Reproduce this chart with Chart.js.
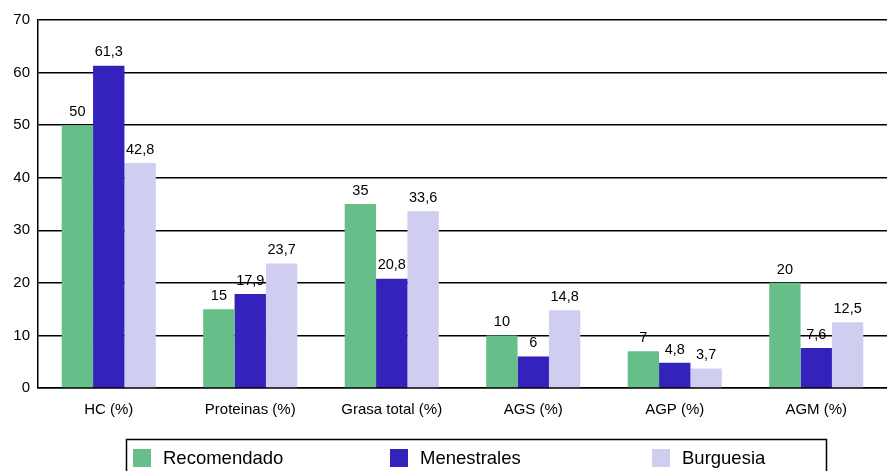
<!DOCTYPE html>
<html lang="es">
<head>
<meta charset="UTF-8">
<title>Dieta</title>
<script src="https://cdn.jsdelivr.net/npm/chart.js@4.4.1/dist/chart.umd.min.js"></script>
<style>
  html, body { margin: 0; padding: 0; background: #fff; }
  #wrap { width: 887px; height: 471px; position: relative; }
</style>
</head>
<body>
<div id="wrap"><canvas id="myChart"></canvas></div>
<script>
// categories and series values
const categories = ['HC (%)', 'Proteinas (%)', 'Grasa total (%)', 'AGS (%)', 'AGP (%)', 'AGM (%)'];
const recomendado = [50, 15, 35, 10, 7, 20];
const menestrales = [61.3, 17.9, 20.8, 6, 4.8, 7.6];
const burguesia = [42.8, 23.7, 33.6, 14.8, 3.7, 12.5];
const seriesNames = ['Recomendado', 'Menestrales', 'Burguesia'];
const yTicks = [0, 10, 20, 30, 40, 50, 60, 70];

const colors = ['#66bf89', '#3322bb', '#cfcef1'];
const FONT = '"Liberation Sans", Arial, sans-serif';

function fmt(v) {
    return String(v).replace('.', ',');
}

// value labels on top of each bar
const valueLabels = {
    id: 'valueLabels',
    afterDatasetsDraw(chart) {
        const ctx = chart.ctx;
        ctx.save();
        ctx.font = '14.5px ' + FONT;
        ctx.fillStyle = '#000';
        ctx.textAlign = 'center';
        ctx.textBaseline = 'bottom';
        chart.data.datasets.forEach((ds, i) => {
            chart.getDatasetMeta(i).data.forEach((bar, j) => {
                ctx.fillText(fmt(ds.data[j]), bar.x, bar.y - 6);
            });
        });
        ctx.restore();
    }
};

// boxed legend at the bottom
const boxLegend = {
    id: 'boxLegend',
    afterDraw(chart) {
        const ctx = chart.ctx;
        ctx.save();
        ctx.strokeStyle = '#000';
        ctx.lineWidth = 1.5;
        ctx.strokeRect(126.5, 439.5, 700, 40);
        const xs = [133, 390, 652];
        ctx.font = '18.5px ' + FONT;
        ctx.textBaseline = 'middle';
        ctx.textAlign = 'left';
        chart.data.datasets.forEach((ds, i) => {
            ctx.fillStyle = ds.backgroundColor;
            ctx.fillRect(xs[i], 449, 18, 18);
            ctx.fillStyle = '#000';
            ctx.fillText(ds.label, xs[i] + 30, 459);
        });
        ctx.restore();
    }
};

const ctx = document.getElementById('myChart').getContext('2d');
const chart = new Chart(ctx, {
    type: 'bar',
    data: {
        labels: categories,
        datasets: [
            { label: seriesNames[0], data: recomendado, backgroundColor: colors[0] },
            { label: seriesNames[1], data: menestrales, backgroundColor: colors[1] },
            { label: seriesNames[2], data: burguesia, backgroundColor: colors[2] }
        ]
    },
    options: {
        responsive: true,
        maintainAspectRatio: false,
        animation: false,
        layout: { padding: { top: 20, right: 0, bottom: 43, left: 0 } },
        datasets: {
            bar: { categoryPercentage: 0.665, barPercentage: 1.0 }
        },
        plugins: {
            legend: { display: false },
            tooltip: { enabled: false }
        },
        scales: {
            x: {
                grid: { display: false, drawTicks: false },
                border: { display: true, color: '#000', width: 1.5 },
                ticks: { color: '#000', font: { family: FONT, size: 15 }, padding: 13, maxRotation: 0 },
                afterFit(scale) { scale.height = 40; }
            },
            y: {
                min: 0, max: 70,
                afterBuildTicks(scale) { scale.ticks = yTicks.map(v => ({ value: v })); },
                grid: { color: '#000', lineWidth: 1.5, drawTicks: false },
                border: { display: true, color: '#000', width: 1.5 },
                ticks: { color: '#000', font: { family: FONT, size: 15 }, padding: 8 },
                afterFit(scale) { scale.width = 38; }
            }
        }
    },
    plugins: [valueLabels, boxLegend]
});
</script>
</body>
</html>
